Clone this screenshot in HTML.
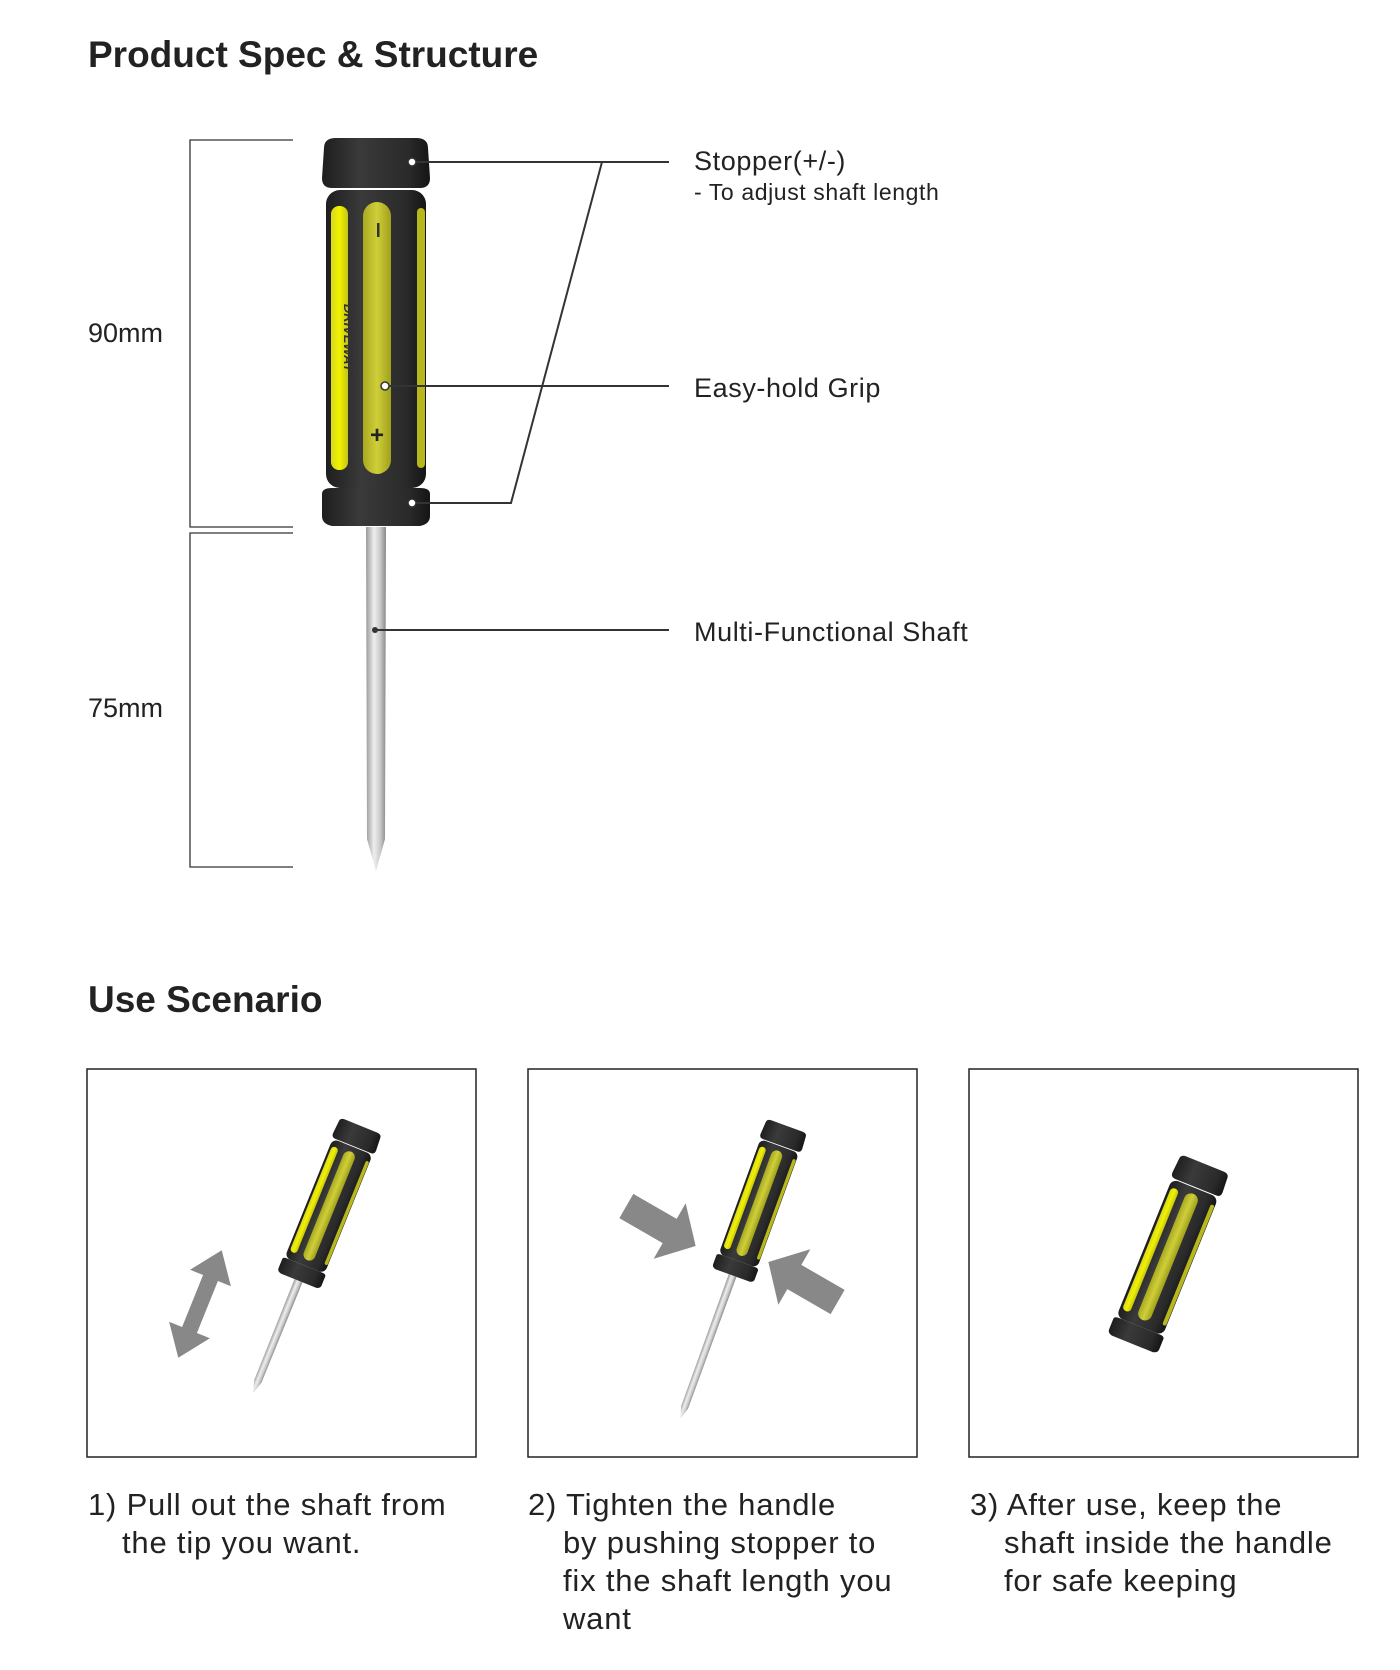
<!DOCTYPE html>
<html><head><meta charset="utf-8"><style>
html,body{margin:0;padding:0;background:#fff;}
svg{display:block;}
text{font-family:"Liberation Sans","Noto Sans CJK KR",sans-serif;fill:#222;}
</style></head><body>
<svg width="1400" height="1670" viewBox="0 0 1400 1670" xmlns="http://www.w3.org/2000/svg">
<defs>
<linearGradient id="cap" x1="0" x2="1" y1="0" y2="0">
<stop offset="0" stop-color="#1e1e1e"/><stop offset=".35" stop-color="#3a3a3a"/><stop offset=".8" stop-color="#2a2a2a"/><stop offset="1" stop-color="#151515"/></linearGradient>
<linearGradient id="ylw" x1="0" x2="1"><stop offset="0" stop-color="#d8d820"/><stop offset=".5" stop-color="#f2f200"/><stop offset="1" stop-color="#c4c416"/></linearGradient>
<linearGradient id="olv" x1="0" x2="1"><stop offset="0" stop-color="#a9a920"/><stop offset=".5" stop-color="#cfcf3a"/><stop offset="1" stop-color="#a0a01c"/></linearGradient>
<linearGradient id="steel" x1="0" x2="1"><stop offset="0" stop-color="#999"/><stop offset=".4" stop-color="#eee"/><stop offset=".7" stop-color="#ccc"/><stop offset="1" stop-color="#888"/></linearGradient>
<g id="handle">
<path d="M-52,10 Q-52,0 -40,0 L40,0 Q52,0 52,10 L54,40 Q54,50 44,50 L-44,50 Q-54,50 -54,40 Z" fill="url(#cap)"/>
<rect x="-50" y="52" width="100" height="298" rx="14" fill="url(#cap)"/>
<rect x="-45" y="68" width="17" height="264" rx="8" fill="url(#ylw)"/>
<rect x="-13" y="64" width="28" height="272" rx="14" fill="url(#olv)"/>
<rect x="41" y="70" width="8" height="260" rx="4" fill="#b8b81c"/>
<path d="M-54,356 Q-54,350 -44,350 L44,350 Q54,350 54,356 L54,378 Q54,386 44,388 L-44,388 Q-54,386 -54,378 Z" fill="url(#cap)"/>
</g>
</defs>

<text x="88" y="67" font-size="37" font-weight="bold" fill="#1a1a1a">Product Spec &amp; Structure</text>

<g stroke="#333" stroke-width="1.3" fill="none">
<path d="M293,140 L190,140 L190,527 L293,527"/>
<path d="M293,533 L190,533 L190,867 L293,867"/>
</g>
<text x="88" y="342" font-size="27">90mm</text>
<text x="88" y="717" font-size="27">75mm</text>

<g transform="translate(376,527)"><path d="M-10,0 L10,0 L9,312 L0,344 L-9,312 Z" fill="url(#steel)"/></g>
<g transform="translate(376,138)">
<use href="#handle"/>
<text transform="translate(-32,200) rotate(90)" font-size="13" font-weight="bold" font-style="italic" text-anchor="middle" style="fill:#333">DRIVEWAY</text>
<rect x="1" y="85" width="2.5" height="14" fill="#333"/>
<text x="1" y="305" font-size="24" font-weight="bold" text-anchor="middle" style="fill:#222">+</text>
</g>

<g stroke="#333" stroke-width="2" fill="none">
<path d="M412,162 L669,162"/>
<path d="M602,162 L511,503 L412,503"/>
<path d="M385,386 L669,386"/>
<path d="M375,630 L669,630"/>
</g>
<g fill="#fff" stroke="#333" stroke-width="1.5">
<circle cx="412" cy="162" r="4"/><circle cx="412" cy="503" r="4"/><circle cx="385" cy="386" r="4"/>
</g>
<circle cx="375" cy="630" r="3" fill="#333"/>

<g style="letter-spacing:0.6px">
<text x="694" y="170" font-size="27">Stopper(+/-)</text>
<text x="694" y="200" font-size="23">- To adjust shaft length</text>
<text x="694" y="397" font-size="27">Easy-hold Grip</text>
<text x="694" y="641" font-size="27">Multi-Functional Shaft</text>
</g>

<text x="88" y="1012" font-size="37" font-weight="bold" fill="#1a1a1a">Use Scenario</text>

<g fill="none" stroke="#222" stroke-width="1.5">
<rect x="87" y="1069" width="389" height="388"/>
<rect x="528" y="1069" width="389" height="388"/>
<rect x="969" y="1069" width="389" height="388"/>
</g>

<g transform="translate(361,1126) rotate(22) scale(0.43)">
<path d="M-10,388 L10,388 L9,640 L0,670 L-9,640 Z" fill="url(#steel)"/>
<use href="#handle"/>
</g>
<g transform="translate(200,1304) rotate(22)">
<polygon points="0,-58 22,-28 8,-28 8,28 22,28 0,58 -22,28 -8,28 -8,-28 -22,-28" fill="#888"/>
</g>

<g transform="translate(787,1126) rotate(20) scale(0.41)">
<path d="M-10,388 L10,388 L9,730 L0,760 L-9,730 Z" fill="url(#steel)"/>
<use href="#handle"/>
</g>
<g transform="translate(661,1226) rotate(30)">
<polygon points="-40,-14 10,-14 10,-32 40,0 10,32 10,14 -40,14" fill="#888"/>
</g>
<g transform="translate(803,1282) rotate(210)">
<polygon points="-40,-14 10,-14 10,-32 40,0 10,32 10,14 -40,14" fill="#888"/>
</g>

<g transform="translate(1205,1164) rotate(22) scale(0.5)">
<use href="#handle"/>
</g>

<g font-size="31" style="letter-spacing:0.8px">
<text x="88" y="1515">1) Pull out the shaft from</text>
<text x="122" y="1553">the tip you want.</text>
<text x="528" y="1515">2) Tighten the handle</text>
<text x="563" y="1553">by pushing stopper to</text>
<text x="563" y="1591">fix the shaft length you</text>
<text x="563" y="1629">want</text>
<text x="970" y="1515">3) After use, keep the</text>
<text x="1004" y="1553">shaft inside the handle</text>
<text x="1004" y="1591">for safe keeping</text>
</g>
</svg>
</body></html>
